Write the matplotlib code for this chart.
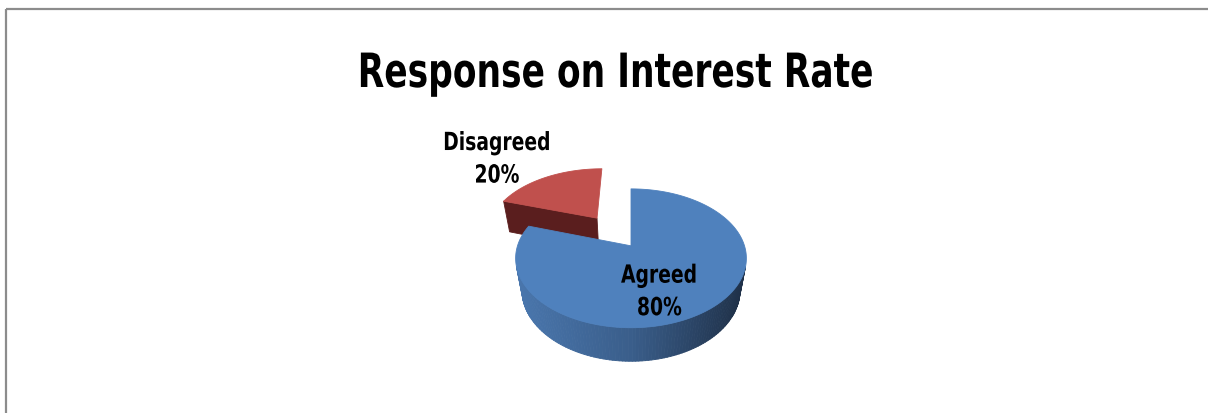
import numpy as np
import matplotlib
matplotlib.use('Agg')
import matplotlib.pyplot as plt
from matplotlib.patches import Polygon
from matplotlib.patheffects import AbstractPathEffect
from matplotlib.transforms import Affine2D
from matplotlib.colors import to_rgb

# Survey answers
labels = ['Agreed', 'Disagreed']
shares = [80, 20]
explode = [0.0, 0.55]

title = 'Response on Interest Rate'

# Colours: top face, and side shading from left to right
top_colors = ['#4F81BD', '#C0504D']
side_ramps = [['#4A77AE', '#3A5E8B', '#1E2F46'], ['#7A2A28', '#5E2020', '#451616']]
cut_colors = ['#2C4770', '#5A1E1E']

# Canvas in pixel units
W, H = 1208, 414
DPI = 100

# Pie geometry (pixel centre, radius, tilt, perspective, thickness)
CX, CY, R = 631, 279, 107.5
ELEV = np.radians(40)
FOCAL = 4.5
THICK = 0.37
START = 90.0

CAMERA = np.array([0.0, -FOCAL * np.cos(ELEV), FOCAL * np.sin(ELEV)])


class Squeeze(AbstractPathEffect):
    """Narrow each text line horizontally about its own centre."""

    def __init__(self, sx):
        super().__init__()
        self.sx = sx

    def draw_path(self, renderer, gc, tpath, affine, rgbFace=None):
        ext = tpath.get_extents(affine)
        cx = (ext.x0 + ext.x1) / 2
        narrow = Affine2D().translate(-cx, 0).scale(self.sx, 1).translate(cx, 0)
        renderer.draw_path(gc, tpath, affine + narrow, rgbFace)


def depth_of(x, y, z):
    return y * np.cos(ELEV) - z * np.sin(ELEV)


def project(x, y, z):
    up = y * np.sin(ELEV) + z * np.cos(ELEV)
    s = FOCAL / (FOCAL + depth_of(x, y, z))
    return CX + R * x * s, CY - R * up * s


def facing(normal, point, min_cos=0.0):
    view = CAMERA - np.asarray(point)
    return np.dot(normal, view) / np.linalg.norm(view) > min_cos


def ramp(colors, t):
    t = min(max(t, 0.0), 1.0)
    cs = [np.array(to_rgb(c)) for c in colors]
    seg = t * (len(cs) - 1)
    i = min(int(seg), len(cs) - 2)
    f = seg - i
    return tuple(cs[i] * (1 - f) + cs[i + 1] * f)


fig = plt.figure(figsize=(W / DPI, H / DPI), dpi=DPI)
ax = fig.add_axes([0, 0, 1, 1])
ax.set_xlim(0, W)
ax.set_ylim(H, 0)
ax.axis('off')

# chart frame (top and left edges only)
ax.plot([6, W + 5], [10, 10], color='#8c8c8c', lw=1.6, solid_capstyle='butt')
ax.plot([6, 6], [10, H + 5], color='#8c8c8c', lw=1.6, solid_capstyle='butt')

total = float(sum(shares))
slices = []
a = START
for i, v in enumerate(shares):
    sweep = 360.0 * v / total
    a0, a1 = a, a - sweep          # clockwise from the top
    mid = np.radians((a0 + a1) / 2)
    ox, oy = explode[i] * np.cos(mid), explode[i] * np.sin(mid)
    slices.append(dict(idx=i, a0=a0, a1=a1, mid=mid, ox=ox, oy=oy))
    a = a1


def draw_poly(pts, color, z):
    ax.add_patch(Polygon(pts, closed=True, facecolor=color, edgecolor=color,
                         lw=0.6, joinstyle='round', zorder=z))


# far slices first
slices.sort(key=lambda s: -depth_of(s['ox'], s['oy'] + 0.3 * np.sin(s['mid']), 0))

z = 2
for s in slices:
    i, ox, oy = s['idx'], s['ox'], s['oy']
    thetas = np.radians(np.linspace(s['a1'], s['a0'], 200))

    def rim(t, zz):
        return (ox + np.cos(t), oy + np.sin(t), zz)

    faces = []
    # curved outer wall
    for t0, t1 in zip(thetas[:-1], thetas[1:]):
        tm = (t0 + t1) / 2
        p = rim(tm, THICK / 2)
        if not facing([np.cos(tm), np.sin(tm), 0], p):
            continue
        quad = [project(*rim(t0, 0)), project(*rim(t1, 0)),
                project(*rim(t1, THICK)), project(*rim(t0, THICK))]
        xs = project(*rim(tm, THICK))[0]
        col = ramp(side_ramps[i], (xs - (CX - 1.1 * R)) / (2.2 * R))
        faces.append((depth_of(*p), quad, col))

    # radial cut faces (skip the ones seen almost edge-on)
    for edge, turn in ((s['a0'], 90.0), (s['a1'], -90.0)):
        te = np.radians(edge)
        n = [np.cos(te + np.radians(turn)), np.sin(te + np.radians(turn)), 0]
        p = (ox + 0.5 * np.cos(te), oy + 0.5 * np.sin(te), THICK / 2)
        if not facing(n, p, min_cos=0.15):
            continue
        quad = [project(ox, oy, 0), project(ox, oy, THICK),
                project(*rim(te, THICK)), project(*rim(te, 0))]
        faces.append((depth_of(*p), quad, cut_colors[i]))

    for _, quad, col in sorted(faces, key=lambda f: -f[0]):
        draw_poly(quad, col, z)
    z += 1

    top = [project(ox, oy, THICK)] + [project(*rim(t, THICK)) for t in thetas]
    draw_poly(top, top_colors[i], z)
    z += 1

# data labels: inside for the big slice, outside for the exploded one
label_radius = [0.4, 1.25]
label_nudge = [(0, 23), (-39, -9)]
font = ['DejaVu Sans']
for s in slices:
    i = s['idx']
    r = label_radius[i]
    lx, ly = project(s['ox'] + r * np.cos(s['mid']), s['oy'] + r * np.sin(s['mid']), THICK)
    ax.text(lx + label_nudge[i][0], ly + label_nudge[i][1],
            '{}\n{}%'.format(labels[i], shares[i]),
            ha='center', va='center', ma='center', fontsize=18,
            fontweight='bold', family=font, linespacing=1.45, zorder=20,
            path_effects=[Squeeze(0.75)])

ax.text(616, 88, title, ha='center', va='baseline', fontsize=34,
        fontweight='bold', family=font, zorder=20,
        path_effects=[Squeeze(0.73)])

fig.savefig('out.png', dpi=DPI, facecolor='white')
